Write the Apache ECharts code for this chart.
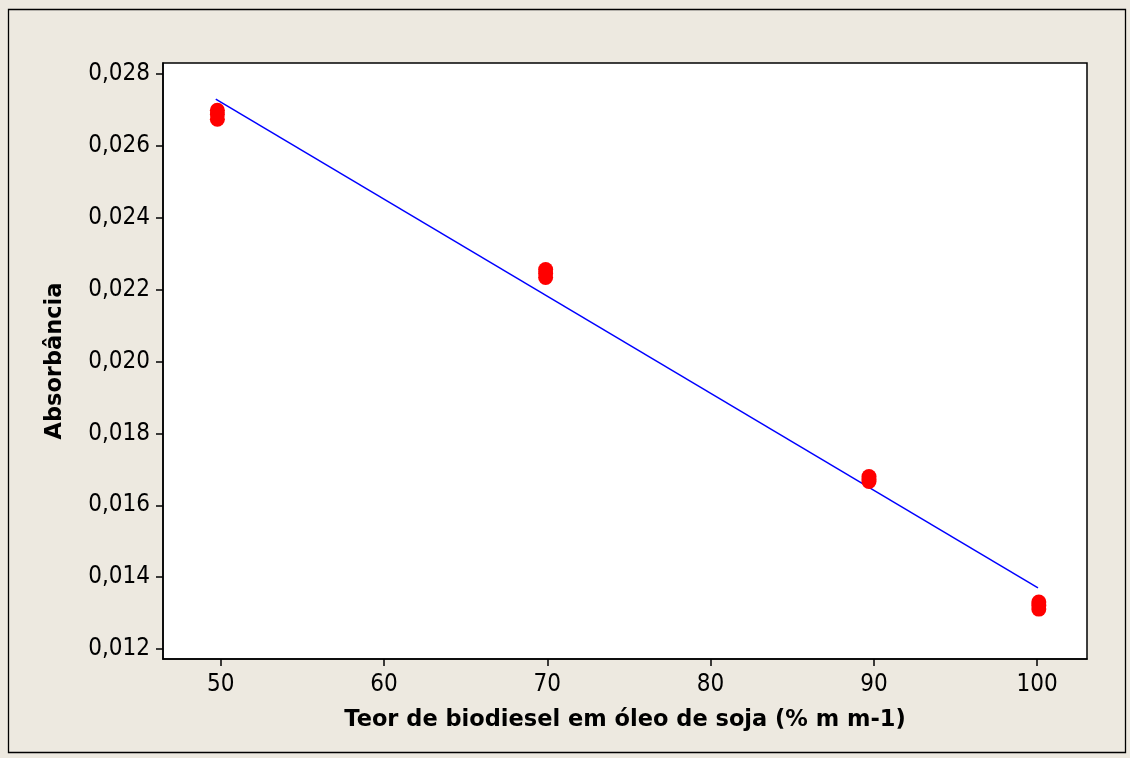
<!DOCTYPE html>
<html>
<head>
<meta charset="utf-8">
<script src="https://cdn.jsdelivr.net/npm/echarts@6/dist/echarts.min.js"></script>
<style>
  html, body { margin: 0; padding: 0; background: #EDE9E0; }
  #chart { width: 1130px; height: 758px; }
</style>
</head>
<body>
<div id="chart"></div>
<script>
// Biodiesel content (% m/m) and measured absorbance, replicate readings per level
const xValues = [49.8, 49.8, 49.8, 69.9, 69.9, 69.9, 89.7, 89.7, 89.7, 100.1, 100.1, 100.1];
const yValues = [0.02699, 0.02687, 0.02674, 0.02256, 0.02245, 0.02234, 0.01680, 0.01673, 0.01666, 0.01331, 0.01321, 0.01311];

// Fitted calibration line endpoints
const fitX = [49.7, 100.05];
const fitY = [0.02730, 0.01370];

const xTicks = [50, 60, 70, 80, 90, 100];
const yTicks = [0.012, 0.014, 0.016, 0.018, 0.020, 0.022, 0.024, 0.026, 0.028];

const xTitle = 'Teor de biodiesel em óleo de soja (% m m-1)';
const yTitle = 'Absorbância';

const TICK_FONT = '"DejaVu Sans Condensed", "DejaVu Sans", sans-serif';
const TITLE_FONT = '"DejaVu Sans", sans-serif';

const chart = echarts.init(document.getElementById('chart'), null, { renderer: 'canvas' });

const scatterData = xValues.map((x, i) => [x, yValues[i]]);
const fitData = fitX.map((x, i) => [x, fitY[i]]);

chart.setOption({
  backgroundColor: '#EDE9E0',
  animation: false,
  graphic: [{
    type: 'rect',
    shape: { x: 8.5, y: 9.5, width: 1117, height: 743 },
    style: { fill: 'none', stroke: '#000', lineWidth: 1.3 },
    z: -1
  }],
  grid: {
    left: 163, top: 63, width: 924, height: 596,
    show: true, backgroundColor: '#fff', borderColor: '#000', borderWidth: 1.5
  },
  xAxis: {
    type: 'value',
    min: 46.47, max: 103.05,
    interval: 10,
    name: xTitle,
    nameLocation: 'middle',
    nameGap: 50,
    nameTextStyle: { fontFamily: TITLE_FONT, fontWeight: 'bold', fontSize: 22.5, color: '#000' },
    axisLine: { show: true, lineStyle: { color: '#000', width: 1.5 } },
    axisTick: {
      show: true, length: 7, inside: false,
      lineStyle: { color: '#000', width: 1.5 },
      customValues: xTicks
    },
    axisLabel: {
      fontFamily: TICK_FONT, fontSize: 24, color: '#000', margin: 14,
      customValues: xTicks,
      formatter: v => String(v)
    },
    splitLine: { show: false }
  },
  yAxis: {
    type: 'value',
    min: 0.011722, max: 0.028306,
    name: yTitle,
    nameLocation: 'middle',
    nameGap: 96,
    nameRotate: 90,
    nameTextStyle: { fontFamily: TITLE_FONT, fontWeight: 'bold', fontSize: 22.5, color: '#000' },
    axisLine: { show: true, lineStyle: { color: '#000', width: 1.5 } },
    axisTick: {
      show: true, length: 7, inside: false,
      lineStyle: { color: '#000', width: 1.5 },
      customValues: yTicks
    },
    axisLabel: {
      fontFamily: TICK_FONT, fontSize: 24, color: '#000', margin: 13,
      customValues: yTicks,
      formatter: v => v.toFixed(3).replace('.', ',')
    },
    splitLine: { show: false }
  },
  series: [
    {
      type: 'line',
      data: fitData,
      showSymbol: false,
      lineStyle: { color: '#0000FF', width: 1.5 },
      z: 2
    },
    {
      type: 'scatter',
      data: scatterData,
      symbol: 'circle',
      symbolSize: 15,
      itemStyle: { color: '#FF0000', opacity: 1 },
      z: 3
    }
  ]
});
</script>
</body>
</html>
